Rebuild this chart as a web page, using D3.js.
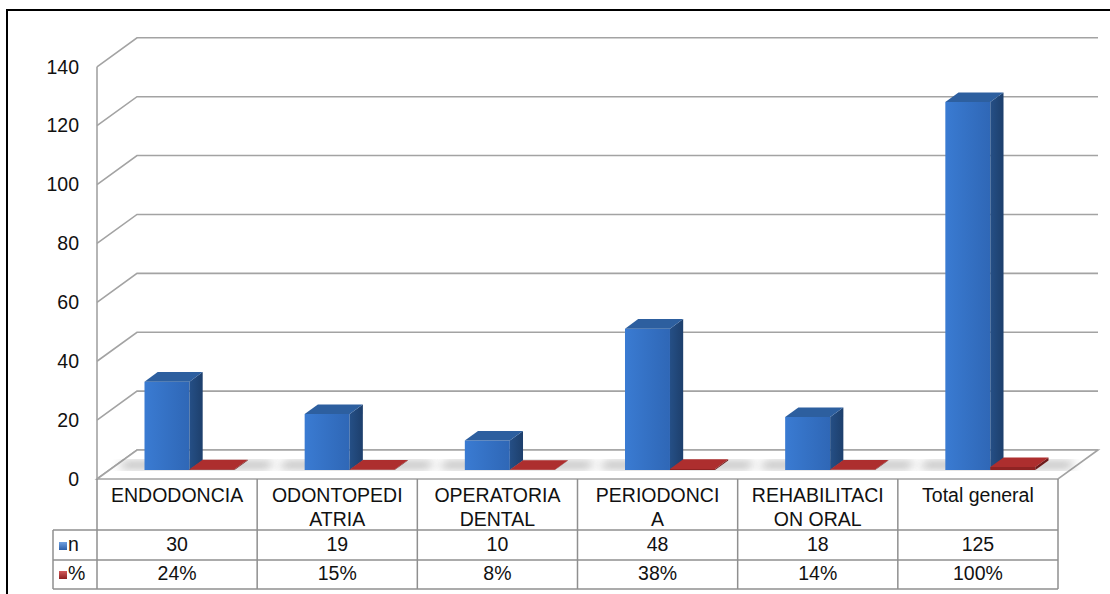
<!DOCTYPE html>
<html><head><meta charset="utf-8">
<script src="https://cdn.jsdelivr.net/npm/d3@7"></script>
<style>body{margin:0;background:#fff}svg{display:block}text{font-family:"Liberation Sans",Arial,sans-serif;fill:#111}</style>
</head><body><svg id="c" width="1110" height="594"></svg>
<script>
const categories = ["ENDODONCIA","ODONTOPEDIATRIA","OPERATORIA DENTAL","PERIODONCIA","REHABILITACION ORAL","Total general"];
const headerLines = [["ENDODONCIA"],["ODONTOPEDI","ATRIA"],["OPERATORIA","DENTAL"],["PERIODONCI","A"],["REHABILITACI","ON ORAL"],["Total general"]];
const nValues = [30,19,10,48,18,125];
const pctValues = [0.24,0.15,0.08,0.38,0.14,1.00];
const nLabels = ["30","19","10","48","18","125"];
const pctLabels = ["24%","15%","8%","38%","14%","100%"];
const seriesNames = ["n","%"];
const yTicks = [0,20,40,60,80,100,120,140];

const FS = 19.5;
const svg = d3.select("#c");
const DX = 40, DY = 29;
const y = d3.scaleLinear().domain([0,140]).range([479,66.8]);
const x = d3.scaleBand().domain(categories).range([97,1058]).padding(0);
const xs = d3.scaleBand().domain(seriesNames).range([0,x.bandwidth()]).paddingInner(0).paddingOuter(0.78);
const P = (px,v,z)=>[px+z*DX, y(v)-z*DY];
const poly = pts => "M"+pts.map(p=>p.join(",")).join("L")+"Z";

const defs = svg.append("defs");
const gb = defs.append("linearGradient").attr("id","bf").attr("x1",0).attr("x2",1).attr("y1",0).attr("y2",0);
gb.append("stop").attr("offset",0).attr("stop-color","#3a7bd2");
gb.append("stop").attr("offset",1).attr("stop-color","#2f67b6");
const gs = defs.append("linearGradient").attr("id","bs").attr("x1",0).attr("x2",1);
gs.append("stop").attr("offset",0).attr("stop-color","#254f86");
gs.append("stop").attr("offset",1).attr("stop-color","#1d3f6c");
defs.append("filter").attr("id","blur").attr("x","-50%").attr("y","-50%").attr("width","200%").attr("height","200%")
  .append("feGaussianBlur").attr("stdDeviation",5);
const kb = defs.append("linearGradient").attr("id","kb").attr("x1",0).attr("x2",0).attr("y1",0).attr("y2",1);
kb.append("stop").attr("offset",0).attr("stop-color","#6fa0e0");kb.append("stop").attr("offset",1).attr("stop-color","#2c5fa8");
const kr = defs.append("linearGradient").attr("id","kr").attr("x1",0).attr("x2",0).attr("y1",0).attr("y2",1);
kr.append("stop").attr("offset",0).attr("stop-color","#d25a5a");kr.append("stop").attr("offset",1).attr("stop-color","#8e1f1f");

// outer border
svg.append("rect").attr("x",7).attr("y",10).attr("width",1120).attr("height",600).attr("fill","none").attr("stroke","#000").attr("stroke-width",2);

const gridC = "#a3a3a3";
const g = svg.append("g");
yTicks.forEach(t=>{
  const a = P(97,t,0), b = P(97,t,1), c = P(1058,t,1);
  g.append("path").attr("d",`M${a}L${b}L${c}`).attr("fill","none").attr("stroke",gridC).attr("stroke-width",1.6);
});
const f0 = P(97,0,0), f1 = P(1058,0,0), f2 = P(1058,0,1), f3 = P(97,0,1);
g.append("path").attr("d",poly([f0,f1,f2,f3])).attr("fill","#fff").attr("stroke",gridC).attr("stroke-width",1.6);
g.append("line").attr("x1",97).attr("x2",97).attr("y1",y(140)).attr("y2",y(0)).attr("stroke",gridC).attr("stroke-width",1.6);

const ax = svg.append("g").attr("transform","translate(79,0)")
  .call(d3.axisLeft(y).tickValues(yTicks).tickSize(0).tickPadding(0));
ax.select(".domain").remove();
ax.selectAll("text").attr("font-size",FS).attr("font-family","Liberation Sans, Arial, sans-serif").attr("fill","#111");

const Z0 = 0.31, Z1 = 0.64;
const bars = svg.append("g");
categories.forEach((c,i)=>{
  const bx = x(c);
  const sx0 = bx+xs("n")-30, sx1 = bx+xs("%")+xs.bandwidth()+30;
  bars.append("path").attr("d",poly([P(sx0,0,Z0+0.08),P(sx1,0,Z0+0.08),P(sx1,0,Z1-0.06),P(sx0,0,Z1-0.06)]))
    .attr("fill","#5e5e5e").attr("opacity",0.6).attr("filter","url(#blur)");
});
categories.forEach((c,i)=>{
  const bx = x(c);
  [["n",nValues[i],"url(#bf)","url(#bs)","#2d5f9f"],["%",pctValues[i],"#8f2323","#6e1a1a","#ad2e2e"]].forEach(([s,v,cf,cs,ct])=>{
    const x0 = bx+xs(s), x1 = x0+xs.bandwidth();
    bars.append("path").attr("d",poly([P(x0,0,Z0),P(x1,0,Z0),P(x1,v,Z0),P(x0,v,Z0)])).attr("fill",cf);
    bars.append("path").attr("d",poly([P(x1,0,Z0),P(x1,0,Z1),P(x1,v,Z1),P(x1,v,Z0)])).attr("fill",cs);
    bars.append("path").attr("d",poly([P(x0,v,Z0),P(x1,v,Z0),P(x1,v,Z1),P(x0,v,Z1)])).attr("fill",ct);
  });
});

const tb = svg.append("g");
const tc = "#8f8f8f";
const rowTop = 479, rowH = 530, rowN = 560, rowP = 589;
[rowH,rowN,rowP].forEach(yy=>tb.append("line").attr("x1",53).attr("x2",1058).attr("y1",yy).attr("y2",yy).attr("stroke",tc).attr("stroke-width",1.5));
tb.append("line").attr("x1",53).attr("x2",53).attr("y1",rowH).attr("y2",rowP).attr("stroke",tc).attr("stroke-width",1.5);
categories.concat([null]).forEach((c,i)=>{
  const xx = c===null ? 1058 : x(c);
  tb.append("line").attr("x1",xx).attr("x2",xx).attr("y1",rowTop).attr("y2",rowP).attr("stroke",tc).attr("stroke-width",1.5);
});
categories.forEach((c,i)=>{
  const cx = x(c)+x.bandwidth()/2;
  const t = tb.append("text").attr("text-anchor","middle").attr("font-size",FS);
  headerLines[i].forEach((ln,j)=>t.append("tspan").attr("x",cx).attr("y",502+j*24).text(ln));
  tb.append("text").attr("x",cx).attr("y",551).attr("text-anchor","middle").attr("font-size",FS).text(nLabels[i]);
  tb.append("text").attr("x",cx).attr("y",580).attr("text-anchor","middle").attr("font-size",FS).text(pctLabels[i]);
});
tb.append("rect").attr("x",59).attr("y",542).attr("width",8).attr("height",8).attr("fill","url(#kb)");
tb.append("rect").attr("x",59).attr("y",571).attr("width",8).attr("height",8).attr("fill","url(#kr)");
tb.append("text").attr("x",68).attr("y",551).attr("font-size",FS).text(seriesNames[0]);
tb.append("text").attr("x",68).attr("y",580).attr("font-size",FS).text(seriesNames[1]);
</script></body></html>
